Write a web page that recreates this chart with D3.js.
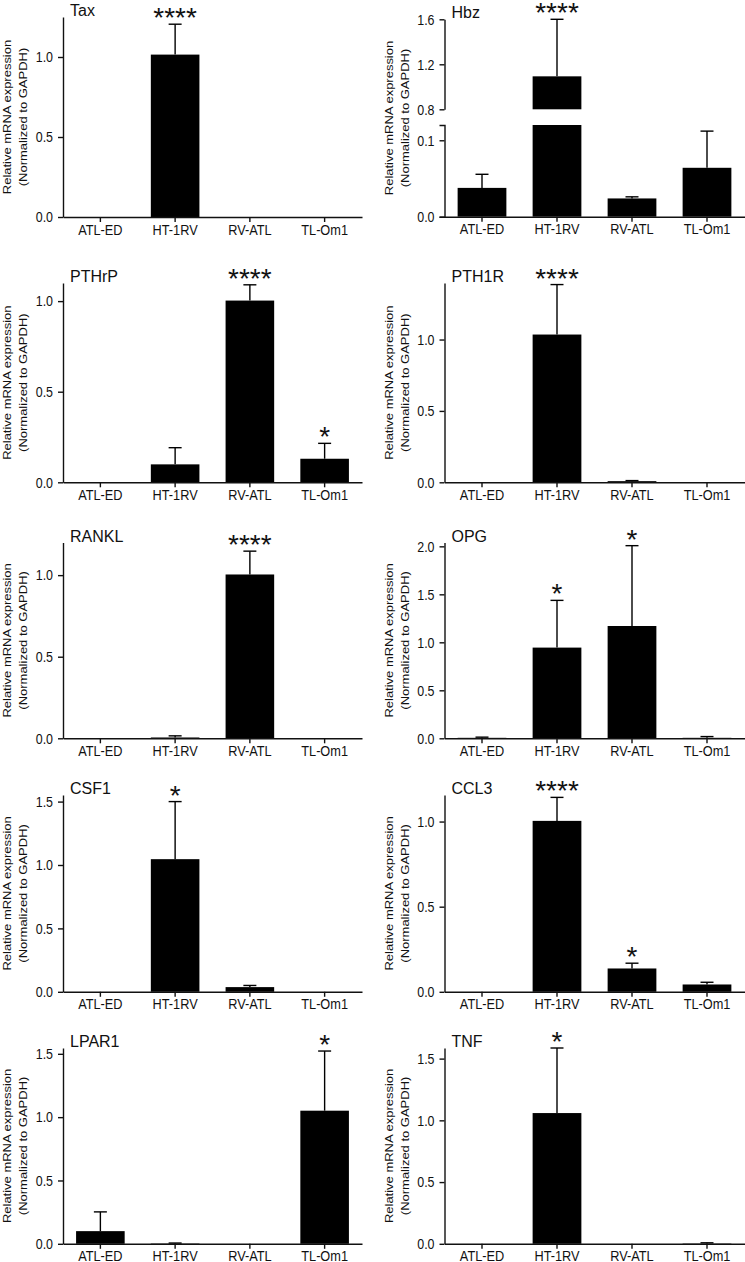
<!DOCTYPE html>
<html><head><meta charset="utf-8">
<script src="https://cdn.jsdelivr.net/npm/d3@7"></script>
<style>
body{margin:0;background:#fff}
svg{display:block}
text{font-family:"Liberation Sans",Arial,Helvetica,sans-serif;fill:#111}
</style>
</head><body>
<svg id="c" width="745" height="1262"></svg>
<script>
// ---------- data ----------
const categories = ["ATL-ED", "HT-1RV", "RV-ATL", "TL-Om1"];
const genes = ["Tax", "Hbz", "PTHrP", "PTH1R", "RANKL", "OPG", "CSF1", "CCL3", "LPAR1", "TNF"];
const yLabelLine1 = "Relative mRNA expression";
const yLabelLine2 = "(Normalized to GAPDH)";

const taxMean   = [0, 1.015, 0, 0];
const taxErr    = [0, 0.19, 0, 0];
const taxSig    = ["", "****", "", ""];

const hbzMean   = [0.0377, 1.093, 0.0239, 0.064];
const hbzErr    = [0.0178, 0.507, 0.0021, 0.048];
const hbzSig    = ["", "****", "", ""];

const pthrpMean = [0, 0.099, 1.003, 0.13];
const pthrpErr  = [0, 0.092, 0.087, 0.085];
const pthrpSig  = ["", "", "****", "*"];

const pth1rMean = [0, 1.035, 0.008, 0];
const pth1rErr  = [0, 0.35, 0.004, 0];
const pth1rSig  = ["", "****", "", ""];

const ranklMean = [0, 0.005, 1.004, 0];
const ranklErr  = [0, 0.01, 0.143, 0];
const ranklSig  = ["", "", "****", ""];

const opgMean   = [0.005, 0.945, 1.17, 0.005];
const opgErr    = [0.007, 0.492, 0.837, 0.013];
const opgSig    = ["", "*", "*", ""];

const csf1Mean  = [0, 1.046, 0.037, 0];
const csf1Err   = [0, 0.454, 0.013, 0];
const csf1Sig   = ["", "*", "", ""];

const ccl3Mean  = [0, 1.004, 0.137, 0.043];
const ccl3Err   = [0, 0.138, 0.031, 0.013];
const ccl3Sig   = ["", "****", "*", ""];

const lpar1Mean = [0.1, 0.003, 0, 1.051];
const lpar1Err  = [0.152, 0.003, 0, 0.471];
const lpar1Sig  = ["", "", "", "*"];

const tnfMean   = [0, 1.059, 0, 0.003];
const tnfErr    = [0, 0.527, 0, 0.005];
const tnfSig    = ["", "*", "", ""];

// y-axis domains and tick values
const yMaxes   = [1.25, null, 1.1, 1.396, 1.2, 2.04, 1.552, 1.156, 1.546, 1.586];
const ticks05  = [0, 0.5, 1.0];
const ticks15  = [0, 0.5, 1.0, 1.5];
const ticks20  = [0, 0.5, 1.0, 1.5, 2.0];
const hbzLowerDomain = [0, 0.12];
const hbzUpperDomain = [0.8, 1.6];
const hbzLowerTicks  = [0, 0.1];
const hbzUpperTicks  = [0.8, 1.2, 1.6];

const means = [taxMean, hbzMean, pthrpMean, pth1rMean, ranklMean, opgMean, csf1Mean, ccl3Mean, lpar1Mean, tnfMean];
const errs  = [taxErr, hbzErr, pthrpErr, pth1rErr, ranklErr, opgErr, csf1Err, ccl3Err, lpar1Err, tnfErr];
const sigs  = [taxSig, hbzSig, pthrpSig, pth1rSig, ranklSig, opgSig, csf1Sig, ccl3Sig, lpar1Sig, tnfSig];
const tickSets = [ticks05, null, ticks05, ticks05, ticks05, ticks20, ticks15, ticks05, ticks15, ticks15];

// ---------- layout ----------
const cols = [{x0: 63, x1: 362}, {x0: 444.5, x1: 744.5}];
const rows = [
  {yBase: 217, yTop: 17},
  {yBase: 482.3, yTop: 283},
  {yBase: 738.3, yTop: 542.5},
  {yBase: 991.8, yTop: 795},
  {yBase: 1243.8, yTop: 1048}
];
const hbzLayout = {lowerBase: 216.7, lowerTop: 125, upperBase: 109.3, upperTop: 19.3};

const svg = d3.select("#c");
const fmt = d3.format(".1f");
const AXW = 1.4;
const SQ = 0.83; // horizontal squeeze of glyphs seen in the reference

function styleAxis(g) {
  g.selectAll("path.domain").attr("stroke", "#111").attr("stroke-width", AXW);
  g.selectAll(".tick line").attr("stroke", "#111").attr("stroke-width", AXW);
  g.selectAll(".tick text").style("font-family", '"Liberation Sans",Arial,sans-serif')
    .attr("fill", "#111");
}
function styleYTicks(g) {
  g.selectAll(".tick text").style("font-size", "15px")
    .attr("x", -10 / SQ).attr("transform", `scale(${SQ},1)`);
}

genes.forEach((gene, gi) => {
  const col = cols[gi % 2];
  const row = rows[Math.floor(gi / 2)];
  const g = svg.append("g");
  const x = d3.scaleBand().domain(categories).range([col.x0, col.x1])
    .paddingInner(0.35).paddingOuter(0.175);
  const m = means[gi], e = errs[gi], s = sigs[gi];
  const cxOf = c => x(c) + x.bandwidth() / 2;

  let axisTop, yBase;
  if (gene === "Hbz") {
    yBase = hbzLayout.lowerBase;
    const yl = d3.scaleLinear().domain(hbzLowerDomain).range([hbzLayout.lowerBase, hbzLayout.lowerTop]);
    const yu = d3.scaleLinear().domain(hbzUpperDomain).range([hbzLayout.upperBase, hbzLayout.upperTop]);
    const ga = g.append("g").attr("transform", `translate(${col.x0},0)`)
      .call(d3.axisLeft(yl).tickValues(hbzLowerTicks).tickFormat(fmt).tickSize(5).tickSizeOuter(5).tickPadding(4));
    styleYTicks(ga); styleAxis(ga);
    const gu = g.append("g").attr("transform", `translate(${col.x0},0)`)
      .call(d3.axisLeft(yu).tickValues(hbzUpperTicks).tickFormat(fmt).tickSize(5).tickSizeOuter(0).tickPadding(4));
    styleYTicks(gu); styleAxis(gu);
    axisTop = hbzLayout.upperTop;
    categories.forEach((c, i) => {
      const v = m[i], top = m[i] + e[i];
      const lv = Math.min(v, hbzLowerDomain[1]);
      g.append("rect").attr("x", x(c)).attr("width", x.bandwidth())
        .attr("y", yl(lv)).attr("height", yl(0) - yl(lv)).attr("fill", "#000");
      if (v > hbzUpperDomain[0]) {
        g.append("rect").attr("x", x(c)).attr("width", x.bandwidth())
          .attr("y", yu(v)).attr("height", yu(hbzUpperDomain[0]) - yu(v)).attr("fill", "#000");
      }
      const sc = v > hbzUpperDomain[0] ? yu : yl;
      const cx = cxOf(c);
      if (e[i] > 0) {
        g.append("line").attr("x1", cx).attr("x2", cx).attr("y1", sc(v)).attr("y2", sc(top))
          .attr("stroke", "#000").attr("stroke-width", 1.4);
        g.append("line").attr("x1", cx - 6.5).attr("x2", cx + 6.5).attr("y1", sc(top)).attr("y2", sc(top))
          .attr("stroke", "#000").attr("stroke-width", 1.4);
      }
      if (s[i]) {
        g.append("text").attr("x", cx).attr("y", sc(top) + 3)
          .attr("text-anchor", "middle").style("font-size", "28px").text(s[i]);
      }
    });
  } else {
    yBase = row.yBase;
    const y = d3.scaleLinear().domain([0, yMaxes[gi]]).range([row.yBase, row.yTop]);
    const ga = g.append("g").attr("transform", `translate(${col.x0},0)`)
      .call(d3.axisLeft(y).tickValues(tickSets[gi]).tickFormat(fmt).tickSize(5).tickSizeOuter(0).tickPadding(4));
    styleYTicks(ga); styleAxis(ga);
    axisTop = row.yTop;
    categories.forEach((c, i) => {
      const v = m[i], top = m[i] + e[i];
      const cx = cxOf(c);
      if (v > 0) {
        g.append("rect").attr("x", x(c)).attr("width", x.bandwidth())
          .attr("y", y(v)).attr("height", y(0) - y(v)).attr("fill", "#000");
      }
      if (e[i] > 0) {
        g.append("line").attr("x1", cx).attr("x2", cx).attr("y1", y(v)).attr("y2", y(top))
          .attr("stroke", "#000").attr("stroke-width", 1.4);
        g.append("line").attr("x1", cx - 6.5).attr("x2", cx + 6.5).attr("y1", y(top)).attr("y2", y(top))
          .attr("stroke", "#000").attr("stroke-width", 1.4);
      }
      if (s[i]) {
        g.append("text").attr("x", cx).attr("y", y(top) + 3)
          .attr("text-anchor", "middle").style("font-size", "28px").text(s[i]);
      }
    });
  }

  // x axis
  const gx = g.append("g").attr("transform", `translate(0,${yBase})`)
    .call(d3.axisBottom(x).tickSize(5).tickSizeOuter(0).tickPadding(2));
  gx.selectAll(".tick text").style("font-size", "15px").attr("transform", `scale(${SQ + 0.02},1)`);
  styleAxis(gx);

  // title
  g.append("text").attr("x", col.x0 + 7).attr("y", axisTop - 1)
    .style("font-size", "16px").text(gene);

  // y label
  const mid = (yBase + axisTop) / 2;
  g.append("text").attr("transform", `translate(${col.x0 - 52},${mid}) rotate(-90) scale(1,0.85)`)
    .attr("text-anchor", "middle").style("font-size", "13px").text(yLabelLine1);
  g.append("text").attr("transform", `translate(${col.x0 - 36},${mid}) rotate(-90) scale(1,0.85)`)
    .attr("text-anchor", "middle").style("font-size", "13px").text(yLabelLine2);
});
</script>
</body></html>
